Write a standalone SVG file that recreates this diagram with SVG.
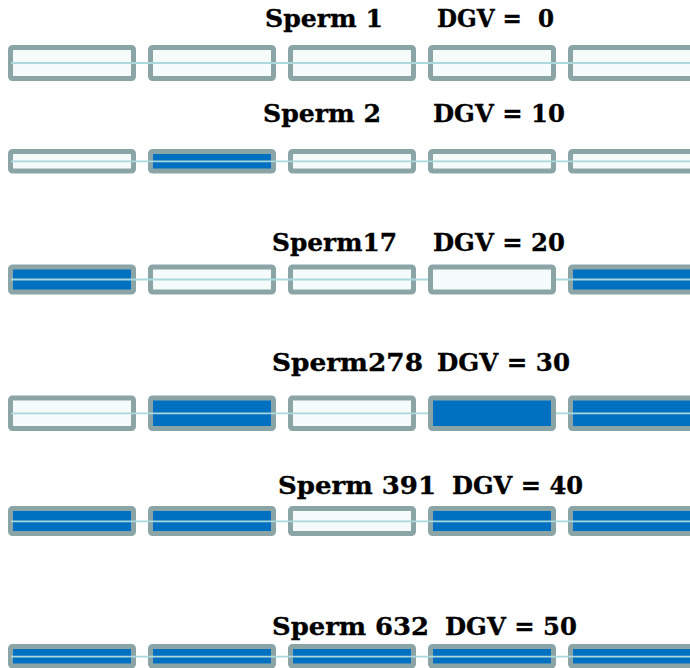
<svg xmlns="http://www.w3.org/2000/svg" width="690" height="668" viewBox="0 0 690 668">
  <style>
    .title { font-family: "DejaVu Serif", "Liberation Serif", serif; font-weight: bold; font-size: 25px; fill: #000; stroke: #000; stroke-width: 0.35; }
    .seg { stroke: #8ba5a7; stroke-width: 5; }
    .off { fill: #f5fafb; }
    .on { fill: #0070c0; }
    .chrom { stroke: #aad8dc; stroke-width: 1.8; fill: none; }
  </style>
  <rect width="690" height="668" fill="#ffffff"/>

  <!-- Sperm 1 -->
  <g id="sperm-1">
    <text class="title" x="265" y="27" textLength="118" lengthAdjust="spacingAndGlyphs">Sperm 1</text>
    <text class="title" x="437" y="27" textLength="117" lengthAdjust="spacingAndGlyphs" xml:space="preserve">DGV =  0</text>
    <rect id="s1-b1" class="seg off" x="10.5" y="47.5" width="123" height="31" rx="2"/>
    <rect id="s1-b2" class="seg off" x="150.5" y="47.5" width="123" height="31" rx="2"/>
    <rect id="s1-b3" class="seg off" x="290.5" y="47.5" width="123" height="31" rx="2"/>
    <rect id="s1-b4" class="seg off" x="430.5" y="47.5" width="123" height="31" rx="2"/>
    <rect id="s1-b5" class="seg off" x="570.5" y="47.5" width="123" height="31" rx="2"/>
  </g>

  <!-- Sperm 2 -->
  <g id="sperm-2">
    <text class="title" x="263" y="122" textLength="118" lengthAdjust="spacingAndGlyphs">Sperm 2</text>
    <text class="title" x="433" y="122" textLength="132" lengthAdjust="spacingAndGlyphs">DGV = 10</text>
    <rect id="s2-b1" class="seg off" x="10.5" y="151.5" width="123" height="19.5" rx="2"/>
    <rect id="s2-b2" class="seg on" x="150.5" y="151.5" width="123" height="19.5" rx="2"/>
    <rect id="s2-b3" class="seg off" x="290.5" y="151.5" width="123" height="19.5" rx="2"/>
    <rect id="s2-b4" class="seg off" x="430.5" y="151.5" width="123" height="19.5" rx="2"/>
    <rect id="s2-b5" class="seg off" x="570.5" y="151.5" width="123" height="19.5" rx="2"/>
  </g>

  <!-- Sperm 17 -->
  <g id="sperm-17">
    <text class="title" x="272" y="251" textLength="125" lengthAdjust="spacingAndGlyphs">Sperm17</text>
    <text class="title" x="433" y="251" textLength="132" lengthAdjust="spacingAndGlyphs">DGV = 20</text>
    <rect id="s17-b1" class="seg on" x="10.5" y="267" width="123" height="25" rx="2"/>
    <rect id="s17-b2" class="seg off" x="150.5" y="267" width="123" height="25" rx="2"/>
    <rect id="s17-b3" class="seg off" x="290.5" y="267" width="123" height="25" rx="2"/>
    <rect id="s17-b4" class="seg off" x="430.5" y="267" width="123" height="25" rx="2"/>
    <rect id="s17-b5" class="seg on" x="570.5" y="267" width="123" height="25" rx="2"/>
  </g>

  <!-- Sperm 278 -->
  <g id="sperm-278">
    <text class="title" x="272" y="371" textLength="151" lengthAdjust="spacingAndGlyphs">Sperm278</text>
    <text class="title" x="437" y="371" textLength="133" lengthAdjust="spacingAndGlyphs">DGV = 30</text>
    <rect id="s278-b1" class="seg off" x="10.5" y="398" width="123" height="30.5" rx="2"/>
    <rect id="s278-b2" class="seg on" x="150.5" y="398" width="123" height="30.5" rx="2"/>
    <rect id="s278-b3" class="seg off" x="290.5" y="398" width="123" height="30.5" rx="2"/>
    <rect id="s278-b4" class="seg on" x="430.5" y="398" width="123" height="30.5" rx="2"/>
    <rect id="s278-b5" class="seg on" x="570.5" y="398" width="123" height="30.5" rx="2"/>
  </g>

  <!-- Sperm 391 -->
  <g id="sperm-391">
    <text class="title" x="278" y="494" textLength="158" lengthAdjust="spacingAndGlyphs">Sperm 391</text>
    <text class="title" x="452" y="494" textLength="131" lengthAdjust="spacingAndGlyphs">DGV = 40</text>
    <rect id="s391-b1" class="seg on" x="10.5" y="508.5" width="123" height="25" rx="2"/>
    <rect id="s391-b2" class="seg on" x="150.5" y="508.5" width="123" height="25" rx="2"/>
    <rect id="s391-b3" class="seg off" x="290.5" y="508.5" width="123" height="25" rx="2"/>
    <rect id="s391-b4" class="seg on" x="430.5" y="508.5" width="123" height="25" rx="2"/>
    <rect id="s391-b5" class="seg on" x="570.5" y="508.5" width="123" height="25" rx="2"/>
  </g>

  <!-- Sperm 632 -->
  <g id="sperm-632">
    <text class="title" x="272" y="635" textLength="157" lengthAdjust="spacingAndGlyphs">Sperm 632</text>
    <text class="title" x="445" y="635" textLength="132" lengthAdjust="spacingAndGlyphs">DGV = 50</text>
    <rect id="s632-b1" class="seg on" x="10.5" y="646.5" width="123" height="19.5" rx="2"/>
    <rect id="s632-b2" class="seg on" x="150.5" y="646.5" width="123" height="19.5" rx="2"/>
    <rect id="s632-b3" class="seg on" x="290.5" y="646.5" width="123" height="19.5" rx="2"/>
    <rect id="s632-b4" class="seg on" x="430.5" y="646.5" width="123" height="19.5" rx="2"/>
    <rect id="s632-b5" class="seg on" x="570.5" y="646.5" width="123" height="19.5" rx="2"/>
  </g>

  <!-- chromosome axis lines running through the segments -->
  <g id="connectors">
    <line class="chrom" x1="11" y1="63" x2="690" y2="63"/>
    <line class="chrom" x1="11" y1="161.3" x2="690" y2="161.3"/>
    <line class="chrom" x1="11" y1="279.5" x2="428" y2="279.5"/>
    <line class="chrom" x1="556" y1="279.5" x2="690" y2="279.5"/>
    <line class="chrom" x1="11" y1="413.3" x2="428" y2="413.3"/>
    <line class="chrom" x1="556" y1="413.3" x2="690" y2="413.3"/>
    <line class="chrom" x1="11" y1="521.3" x2="690" y2="521.3"/>
    <line class="chrom" x1="11" y1="656.7" x2="690" y2="656.7"/>
  </g>
</svg>
